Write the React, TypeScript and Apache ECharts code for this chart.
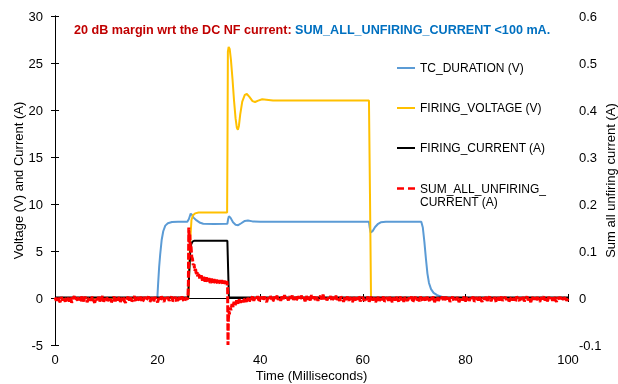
import React, { useEffect, useRef } from "react";
import * as echarts from "echarts";

const FONT = "'Liberation Sans', Arial, sans-serif";

// X axis ticks (ms)
const X_MIN = 0;
const X_MAX = 100;
const X_STEP = 20;

// TC_DURATION (V)
const tcT = [0, 19.95, 20.1, 20.3, 20.5, 20.8, 21.1, 21.5, 22.0, 22.8, 24, 25.8, 26.1, 26.45, 26.7, 27.0, 27.6, 28.3, 28.9, 31, 33.6, 33.75, 33.9, 34.2, 34.7, 35.2, 35.7, 36.3, 37.0, 37.6, 38.5, 40, 61.2, 61.35, 61.55, 61.9, 62.4, 62.9, 63.5, 64.5, 71.4, 71.7, 72.0, 72.3, 72.6, 72.9, 73.3, 73.8, 74.5, 75.5, 76.5, 77.5, 100];
const tcV = [0, 0, 1.5, 3.3, 4.6, 6.2, 7.1, 7.7, 7.95, 8.08, 8.1, 8.12, 8.4, 8.97, 8.85, 8.55, 8.25, 8.0, 7.9, 7.88, 7.9, 8.4, 8.7, 8.55, 8.05, 7.8, 7.75, 7.95, 8.2, 8.25, 8.15, 8.12, 8.12, 7.5, 6.97, 7.1, 7.55, 7.85, 8.05, 8.12, 8.12, 7.5, 6.0, 4.2, 2.6, 1.6, 0.95, 0.55, 0.3, 0.12, 0.04, 0, 0];

// FIRING_VOLTAGE (V)
const fvT = [0, 26.0, 26.2, 26.4, 26.6, 26.9, 27.3, 28.0, 33.55, 33.62, 33.7, 33.85, 34.05, 34.3, 34.6, 34.9, 35.2, 35.45, 35.65, 35.85, 36.1, 36.5, 37.0, 37.4, 37.9, 38.5, 39.0, 39.6, 40.4, 41.2, 42.5, 61.2, 61.4, 61.6, 100];
const fvV = [0, 0, 3.5, 6.5, 8.3, 8.8, 9.0, 9.1, 9.1, 16, 26.2, 26.7, 26.5, 25.3, 23.3, 21.0, 19.1, 18.1, 17.9, 18.3, 19.5, 20.9, 21.6, 21.7, 21.4, 20.95, 20.85, 21.0, 21.15, 21.1, 21.0, 21.0, 11, 0, 0];

// FIRING_CURRENT (A)
const fcT = [0, 25.95, 26.15, 26.35, 26.55, 26.8, 27.2, 33.6, 33.75, 33.9, 100];
const fcV = [0.05, 0.05, 2.5, 4.8, 5.7, 6.0, 6.1, 6.1, 3, 0.05, 0.05];

// SUM_ALL_UNFIRING_CURRENT (A) – right axis, sampled every 0.25 ms outside the event
const RED_STEP = 0.25;
const RED_PRE_START = 0;
const RED_PRE = [
  0.001, -0.006, 0.003, -0.004, -0.009, 0.002, -0.005, 0.0, -0.008, 0.003,
  -0.002, -0.007, 0.002, -0.01, -0.001, 0.004, -0.006, -0.003, 0.001, -0.008,
  -0.004, 0.003, -0.007, -0.001, 0.002, -0.009, -0.003, 0.001, -0.006, 0.003,
  -0.005, -0.01, 0.0, -0.004, 0.002, -0.007, -0.002, 0.004, -0.008, -0.001,
  0.002, -0.006, -0.003, 0.001, -0.009, -0.004, 0.003, -0.007, 0.0, -0.005,
  0.002, -0.008, -0.002, 0.003, -0.006, -0.01, -0.001, 0.002, -0.005, 0.001,
  -0.007, -0.003, 0.004, -0.008, -0.002, 0.001, -0.006, 0.003, -0.009, -0.004,
  0.002, -0.005, -0.001, 0.003, -0.008, -0.003, 0.001, -0.007, 0.002, -0.004,
  -0.009, 0.0, -0.005, 0.003, -0.002, -0.008, 0.001, -0.004, 0.002, -0.006,
  -0.001, 0.003, -0.007, -0.003, 0.002, -0.009, -0.002, 0.001, -0.005, 0.003,
  -0.004, -0.008, 0.001, -0.002,
];
const RED_EVENT_T = [25.9, 26.0, 26.08, 26.18, 26.28, 26.4, 26.52, 26.65, 26.8, 26.95, 27.1, 27.25, 27.4, 27.55, 27.7, 27.85, 28.0, 28.25, 28.5, 28.75, 29.0, 29.25, 29.5, 29.75, 30.0, 30.25, 30.5, 30.75, 31.0, 31.25, 31.5, 31.75, 32.0, 32.25, 32.5, 32.75, 33.0, 33.25, 33.5, 33.65, 33.72, 33.8, 33.9, 34.0, 34.15, 34.3, 34.5, 34.7, 34.9, 35.15, 35.4, 35.65, 35.9, 36.15, 36.4, 36.7, 37.0, 37.3, 37.6, 37.9, 38.1];
const RED_EVENT_V = [-0.001, 0.03, 0.15, 0.118, 0.135, 0.104, 0.11, 0.088, 0.083, 0.07, 0.072, 0.058, 0.062, 0.049, 0.055, 0.044, 0.051, 0.041, 0.048, 0.037, 0.045, 0.035, 0.044, 0.034, 0.042, 0.032, 0.041, 0.031, 0.04, 0.03, 0.039, 0.029, 0.038, 0.029, 0.038, 0.028, 0.037, 0.028, 0.036, 0.02, -0.1, -0.045, -0.028, -0.035, -0.02, -0.026, -0.013, -0.019, -0.008, -0.015, -0.005, -0.012, -0.003, -0.01, -0.002, -0.009, -0.001, -0.008, 0.0, -0.007, -0.002];
const RED_POST_START = 38.25;
const RED_POST = [
  -0.002, 0.003, -0.006, 0.001, -0.004, 0.004, -0.008, -0.001, 0.002, -0.005,
  0.003, -0.003, -0.009, 0.001, -0.004, 0.004, -0.002, -0.007, 0.002, -0.001,
  0.005, -0.004, 0.001, -0.006, 0.003, -0.002, 0.006, -0.003, 0.001, -0.005,
  0.004, -0.001, 0.005, -0.004, 0.002, -0.006, 0.003, 0.0, -0.004, 0.005,
  -0.002, 0.001, -0.007, 0.004, -0.003, 0.002, -0.005, 0.006, -0.001, 0.003,
  -0.004, 0.002, -0.006, 0.001, 0.004, -0.003, 0.007, -0.002, 0.003, -0.005,
  0.001, -0.003, 0.004, -0.007, 0.002, -0.002, 0.005, -0.004, 0.0, -0.006,
  0.003, -0.001, -0.008, 0.002, -0.004, 0.003, -0.006, 0.001, -0.002, -0.009,
  0.002, -0.005, 0.001, -0.003, 0.004, -0.007, -0.002, 0.002, -0.006, 0.0,
  -0.004, 0.003, -0.008, -0.001, 0.002, -0.005, 0.001, -0.009, -0.003, 0.002,
  -0.006, 0.0, -0.004, 0.003, -0.008, -0.002, 0.001, -0.006, 0.002, -0.003,
  -0.009, 0.001, -0.005, 0.002, -0.003, -0.007, 0.003, -0.004, 0.0, -0.008,
  0.002, -0.002, -0.006, 0.001, -0.004, 0.003, -0.009, -0.001, 0.002, -0.005,
  0.0, -0.007, 0.003, -0.003, -0.008, 0.001, -0.005, 0.002, -0.002, -0.006,
  0.001, -0.004, 0.003, -0.009, -0.002, 0.002, -0.006, 0.0, -0.003, 0.003,
  -0.007, -0.001, 0.002, -0.005, 0.001, -0.008, -0.003, 0.003, -0.006, 0.0,
  -0.004, 0.002, -0.009, -0.002, 0.001, -0.005, 0.003, -0.007, -0.001, 0.002,
  -0.006, 0.0, -0.003, 0.003, -0.008, -0.002, 0.001, -0.005, 0.002, -0.004,
  -0.008, 0.001, -0.003, 0.002, -0.006, -0.001, 0.003, -0.007, 0.0, -0.004,
  0.002, -0.009, -0.002, 0.001, -0.005, 0.003, -0.006, -0.001, 0.002, -0.004,
  0.001, -0.007, -0.003, 0.002, -0.005, 0.0, -0.008, 0.003, -0.002, -0.006,
  0.001, -0.004, 0.002, -0.007, -0.001, 0.003, -0.005, 0.0, -0.009, 0.002,
  -0.003, 0.001, -0.006, 0.002, -0.004, -0.008, 0.001, -0.002, 0.003, -0.005,
  -0.001, -0.007, 0.002, -0.003, 0.001, -0.006, 0.003, -0.004, -0.008, 0.001,
  -0.002, 0.002, -0.005, 0.0, -0.003, 0.003, -0.006, -0.001,
];

const NAMES = ["TC_DURATION (V)", "FIRING_VOLTAGE (V)", "FIRING_CURRENT (A)", "SUM_ALL_UNFIRING_CURRENT (A)"];
const COLORS = ["#5B9BD5", "#FFC000", "#000000", "#FF0000"];

const SOLID_ICON = "path://M0,0h18v2h-18z";
const DASH_ICON = "path://M0,0h7v2.5h-7z M11,0h7v2.5h-7z";

const pairs = (t: number[], v: number[]) => t.map((x, i) => [x, v[i]]);

export default function App() {
  const ref = useRef<HTMLDivElement>(null);
  useEffect(() => {
    if (!ref.current) return;
    const chart = echarts.init(ref.current, null, { renderer: "svg" });
    const redData = [
      ...RED_PRE.map((v, i) => [RED_PRE_START + i * RED_STEP, v]),
      ...pairs(RED_EVENT_T, RED_EVENT_V),
      ...RED_POST.map((v, i) => [RED_POST_START + i * RED_STEP, v]),
    ];
    const axisLine = { show: true, lineStyle: { color: "#000", width: 1 } };
    const tick = { show: true, inside: true, length: 4, lineStyle: { color: "#000" } };
    const label = { color: "#000", fontSize: 13, fontFamily: FONT };
    const nameStyle = { color: "#000", fontSize: 13, fontFamily: FONT };
    chart.setOption({
      animation: false,
      textStyle: { fontFamily: FONT },
      title: {
        text: "{r|20 dB margin wrt the DC NF current: }{b|SUM_ALL_UNFIRING_CURRENT <100 mA.}",
        left: 74,
        top: 23,
        padding: 0,
        textStyle: {
          rich: {
            r: { color: "#C00000", fontWeight: "bold", fontSize: 12.6, fontFamily: FONT },
            b: { color: "#0070C0", fontWeight: "bold", fontSize: 12.6, fontFamily: FONT },
          },
        },
      },
      grid: { left: 55, right: 50, top: 16, bottom: 39, outerBoundsMode: "none" },
      legend: [
        {
          data: NAMES.slice(0, 3).map((n) => ({ name: n, icon: SOLID_ICON })),
          orient: "vertical",
          left: 397,
          top: 61,
          padding: 0,
          itemGap: 26,
          itemWidth: 18,
          itemHeight: 14,
          textStyle: { fontSize: 12, color: "#000", lineHeight: 14, fontFamily: FONT },
        },
        {
          data: [{ name: NAMES[3], icon: DASH_ICON }],
          orient: "vertical",
          left: 397,
          top: 169,
          padding: 0,
          itemWidth: 18,
          itemHeight: 14,
          formatter: () => "\nSUM_ALL_UNFIRING_\nCURRENT (A)",
          textStyle: { fontSize: 12, color: "#000", lineHeight: 13, fontFamily: FONT },
        },
      ],
      xAxis: [
        {
          type: "value",
          min: X_MIN,
          max: X_MAX,
          interval: X_STEP,
          position: "bottom",
          axisLine,
          axisTick: tick,
          axisLabel: { ...label, margin: 8 },
          splitLine: { show: false },
          name: "Time (Milliseconds)",
          nameLocation: "middle",
          nameGap: 24,
          nameMoveOverlap: false,
          nameTextStyle: nameStyle,
        },
        {
          type: "value",
          min: X_MIN,
          max: X_MAX,
          interval: X_STEP,
          position: "top",
          axisLine,
          axisTick: tick,
          axisLabel: { show: false },
          splitLine: { show: false },
        },
      ],
      yAxis: [
        {
          type: "value",
          min: -5,
          max: 30,
          interval: 5,
          position: "left",
          axisLine,
          axisTick: tick,
          axisLabel: { ...label, margin: 12 },
          splitLine: { show: false },
          name: "Voltage (V) and Current (A)",
          nameLocation: "middle",
          nameGap: 30,
          nameMoveOverlap: false,
          nameTextStyle: nameStyle,
        },
        {
          type: "value",
          min: -0.1,
          max: 0.6,
          interval: 0.1,
          position: "right",
          axisLine,
          axisTick: tick,
          axisLabel: { ...label, margin: 11 },
          splitLine: { show: false },
          name: "Sum all unfiring current (A)",
          nameLocation: "middle",
          nameGap: 36,
          nameMoveOverlap: false,
          nameTextStyle: nameStyle,
        },
      ],
      series: [
        {
          name: NAMES[0],
          type: "line",
          yAxisIndex: 0,
          data: pairs(tcT, tcV),
          symbol: "none",
          lineStyle: { color: COLORS[0], width: 2 },
          itemStyle: { color: COLORS[0] },
        },
        {
          name: NAMES[1],
          type: "line",
          yAxisIndex: 0,
          data: pairs(fvT, fvV),
          symbol: "none",
          lineStyle: { color: COLORS[1], width: 2 },
          itemStyle: { color: COLORS[1] },
        },
        {
          name: NAMES[2],
          type: "line",
          yAxisIndex: 0,
          data: pairs(fcT, fcV),
          symbol: "none",
          lineStyle: { color: COLORS[2], width: 2 },
          itemStyle: { color: COLORS[2] },
        },
        {
          name: NAMES[3],
          type: "line",
          yAxisIndex: 1,
          data: redData,
          symbol: "none",
          lineStyle: { color: COLORS[3], width: 3, type: [7, 2] },
          itemStyle: { color: COLORS[3] },
        },
      ],
    });
    return () => chart.dispose();
  }, []);
  return <div ref={ref} style={{ position: "fixed", left: 0, top: 0, width: 618, height: 384 }} />;
}
